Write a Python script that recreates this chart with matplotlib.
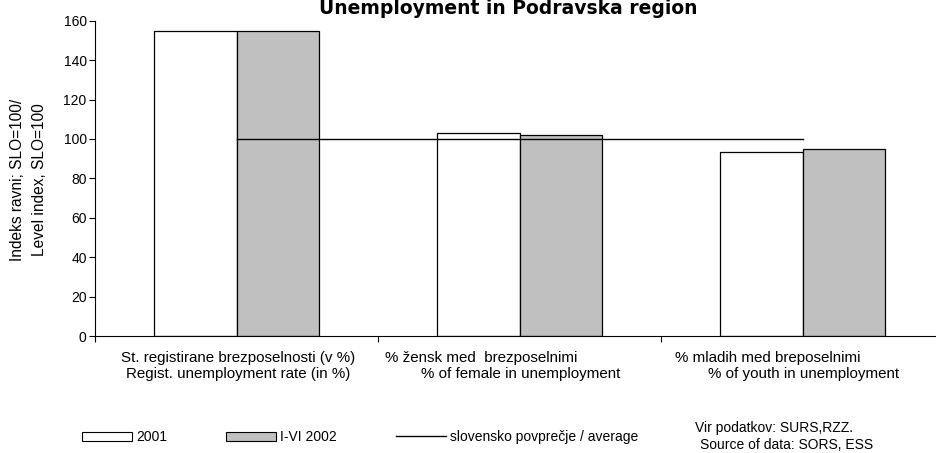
import matplotlib
matplotlib.use("Agg")
import matplotlib.pyplot as plt
from matplotlib.patches import Patch
from matplotlib.lines import Line2D

plt.rcParams['font.family'] = ['Liberation Sans', 'DejaVu Sans']

# data
cat_line1 = ["St. registirane brezposelnosti (v %)",
             "% žensk med  brezposelnimi",
             "% mladih med breposelnimi"]
cat_line2 = ["Regist. unemployment rate (in %)",
             "% of female in unemployment",
             "% of youth in unemployment"]
val_2001 = [155, 103, 93.5]
val_2002 = [155, 102, 94.7]
slo_avg = [100, 100, 100]
series_names = ["2001", "I-VI 2002", "slovensko povprečje / average"]
yticks = [0, 20, 40, 60, 80, 100, 120, 140, 160]

x = list(range(len(cat_line1)))
bw = 0.29

fig = plt.figure(figsize=(9.36, 4.53), dpi=100)
ax = fig.add_axes([95/936, 117/453, 849/936, 315.3/453])

ax.bar([i - bw for i in x], val_2001, width=bw, align='edge',
       color='white', edgecolor='black', linewidth=0.9)
ax.bar(x, val_2002, width=bw, align='edge',
       color='#c0c0c0', edgecolor='black', linewidth=0.9)
ax.plot(x, slo_avg, color='black', linewidth=1.0)

ax.set_xlim(-0.5, 2.5)
ax.set_ylim(0, 160)
ax.set_yticks(yticks)
ax.tick_params(axis='y', labelsize=10, length=4, width=0.8, direction='out', pad=2)
ax.set_xticks([-0.5, 0.5, 1.5])
ax.set_xticklabels([])
ax.tick_params(axis='x', length=4, width=0.8, direction='out')
for s in ['top', 'right']:
    ax.spines[s].set_visible(False)
for s in ['left', 'bottom']:
    ax.spines[s].set_linewidth(0.8)

# category labels, first line shifted like in the original
shift1 = [0.005, -0.137, -0.124]
for i in x:
    ax.text(i + shift1[i], -11.2, cat_line1[i], ha='center', va='center', fontsize=10.9)
    ax.text(i + 0.005, -19.3, cat_line2[i], ha='center', va='center', fontsize=10.9)

fig.text(18/936, 1 - 180/453, "Indeks ravni; SLO=100/", rotation=90,
         ha='center', va='center', fontsize=11.2)
fig.text(40/936, 1 - 180/453, "Level index, SLO=100", rotation=90,
         ha='center', va='center', fontsize=11.2)

fig.text(508/936, 1 - 14/453, "Unemployment in Podravska region",
         ha='center', va='baseline', fontsize=13.5, fontweight='bold',
         family='DejaVu Sans')

handles = [Patch(facecolor='white', edgecolor='black', linewidth=0.8),
           Patch(facecolor='#c0c0c0', edgecolor='black', linewidth=0.8),
           Line2D([], [], color='black', linewidth=1.0)]
fig.legend(handles, series_names, loc='center left',
           bbox_to_anchor=(82/936, 1 - 437/453), ncol=3, frameon=False,
           fontsize=10, handlelength=3.6, handleheight=0.6,
           handletextpad=0.3, columnspacing=4.25, borderpad=0, borderaxespad=0)

fig.text(695/936, 1 - 428/453, "Vir podatkov: SURS,RZZ.", ha='left', va='center', fontsize=10)
fig.text(700/936, 1/453, "Source of data: SORS, ESS", ha='left', va='bottom', fontsize=10)

fig.savefig("out.png", dpi=100)
